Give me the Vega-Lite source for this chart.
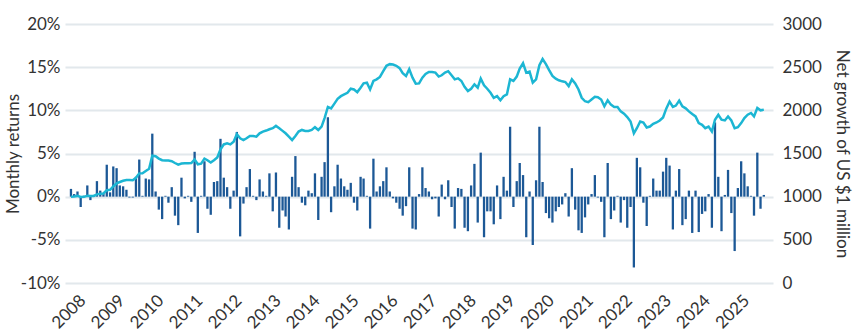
{
  "$schema": "https://vega.github.io/schema/vega-lite/v6.json",
  "width": 708,
  "height": 259,
  "autosize": {"type": "none"},
  "padding": {"left": 65, "top": 24, "right": 82, "bottom": 53},
  "config": {
    "font": "Lato",
    "view": {"stroke": null},
    "axis": {"labelFontSize": 17, "titleFontSize": 17, "labelColor": "#333333", "titleColor": "#333333", "titleFontWeight": "normal", "domain": false, "ticks": false}
  },
  "data": {"values": [
    {"d":"2007-09-01","r":0.9,"g":1000},{"d":"2007-10-01","r":0.3,"g":1003},{"d":"2007-11-01","r":0.6,"g":1009},{"d":"2007-12-01","r":-1.2,"g":997},
    {"d":"2008-01-01","r":0.1,"g":998},{"d":"2008-02-01","r":1.3,"g":1011},{"d":"2008-03-01","r":-0.4,"g":1007},{"d":"2008-04-01","r":0.2,"g":1009},{"d":"2008-05-01","r":1.8,"g":1027},{"d":"2008-06-01","r":0.7,"g":1034},{"d":"2008-07-01","r":0.3,"g":1037},{"d":"2008-08-01","r":3.7,"g":1075},{"d":"2008-09-01","r":0.5,"g":1080},{"d":"2008-10-01","r":3.5,"g":1118},{"d":"2008-11-01","r":3.3,"g":1155},{"d":"2008-12-01","r":1.3,"g":1170},
    {"d":"2009-01-01","r":1.2,"g":1184},{"d":"2009-02-01","r":0.8,"g":1193},{"d":"2009-03-01","r":-0.1,"g":1192},{"d":"2009-04-01","r":-0.1,"g":1191},{"d":"2009-05-01","r":2.3,"g":1218},{"d":"2009-06-01","r":4.3,"g":1270},{"d":"2009-07-01","r":0.1,"g":1272},{"d":"2009-08-01","r":2.1,"g":1298},{"d":"2009-09-01","r":2.0,"g":1324},{"d":"2009-10-01","r":7.3,"g":1475},{"d":"2009-11-01","r":0.6,"g":1469},{"d":"2009-12-01","r":-1.5,"g":1441},
    {"d":"2010-01-01","r":-2.6,"g":1422},{"d":"2010-02-01","r":0.1,"g":1418},{"d":"2010-03-01","r":-0.7,"g":1418},{"d":"2010-04-01","r":1.1,"g":1410},{"d":"2010-05-01","r":-2.2,"g":1390},{"d":"2010-06-01","r":-3.3,"g":1371},{"d":"2010-07-01","r":2.2,"g":1383},{"d":"2010-08-01","r":-0.2,"g":1387},{"d":"2010-09-01","r":0.1,"g":1387},{"d":"2010-10-01","r":-0.6,"g":1390},{"d":"2010-11-01","r":5.2,"g":1430},{"d":"2010-12-01","r":-4.2,"g":1375},
    {"d":"2011-01-01","r":0.1,"g":1383},{"d":"2011-02-01","r":4.1,"g":1441},{"d":"2011-03-01","r":-1.4,"g":1422},{"d":"2011-04-01","r":-2.1,"g":1395},{"d":"2011-05-01","r":1.7,"g":1422},{"d":"2011-06-01","r":1.8,"g":1453},{"d":"2011-07-01","r":6.7,"g":1547},{"d":"2011-08-01","r":2.2,"g":1605},{"d":"2011-09-01","r":1.1,"g":1617},{"d":"2011-10-01","r":-1.4,"g":1605},{"d":"2011-11-01","r":0.7,"g":1637},{"d":"2011-12-01","r":7.5,"g":1723},
    {"d":"2012-01-01","r":-4.6,"g":1676},{"d":"2012-02-01","r":-0.8,"g":1656},{"d":"2012-03-01","r":1.1,"g":1676},{"d":"2012-04-01","r":3.2,"g":1703},{"d":"2012-05-01","r":0.1,"g":1703},{"d":"2012-06-01","r":-0.4,"g":1695},{"d":"2012-07-01","r":2.0,"g":1734},{"d":"2012-08-01","r":0.6,"g":1754},{"d":"2012-09-01","r":0.1,"g":1766},{"d":"2012-10-01","r":2.7,"g":1781},{"d":"2012-11-01","r":-1.7,"g":1793},{"d":"2012-12-01","r":2.8,"g":1820},
    {"d":"2013-01-01","r":-3.6,"g":1793},{"d":"2013-02-01","r":-1.6,"g":1762},{"d":"2013-03-01","r":-2.3,"g":1734},{"d":"2013-04-01","r":-3.8,"g":1695},{"d":"2013-05-01","r":2.3,"g":1656},{"d":"2013-06-01","r":4.7,"g":1703},{"d":"2013-07-01","r":1.1,"g":1754},{"d":"2013-08-01","r":-0.7,"g":1773},{"d":"2013-09-01","r":-1.0,"g":1762},{"d":"2013-10-01","r":0.7,"g":1762},{"d":"2013-11-01","r":0.4,"g":1773},{"d":"2013-12-01","r":2.7,"g":1805},
    {"d":"2014-01-01","r":-2.7,"g":1773},{"d":"2014-02-01","r":2.3,"g":1812},{"d":"2014-03-01","r":4.0,"g":1910},{"d":"2014-04-01","r":9.2,"g":2039},{"d":"2014-05-01","r":-1.8,"g":2023},{"d":"2014-06-01","r":1.2,"g":2078},{"d":"2014-07-01","r":3.7,"g":2133},{"d":"2014-08-01","r":2.1,"g":2164},{"d":"2014-09-01","r":1.2,"g":2184},{"d":"2014-10-01","r":0.8,"g":2203},{"d":"2014-11-01","r":1.6,"g":2250},{"d":"2014-12-01","r":-0.7,"g":2242},
    {"d":"2015-01-01","r":-1.6,"g":2211},{"d":"2015-02-01","r":2.3,"g":2262},{"d":"2015-03-01","r":2.1,"g":2312},{"d":"2015-04-01","r":0.1,"g":2320},{"d":"2015-05-01","r":-3.7,"g":2242},{"d":"2015-06-01","r":4.4,"g":2340},{"d":"2015-07-01","r":0.6,"g":2359},{"d":"2015-08-01","r":1.2,"g":2387},{"d":"2015-09-01","r":1.8,"g":2453},{"d":"2015-10-01","r":3.4,"g":2516},{"d":"2015-11-01","r":0.6,"g":2535},{"d":"2015-12-01","r":-0.2,"g":2531},
    {"d":"2016-01-01","r":-0.7,"g":2516},{"d":"2016-02-01","r":-1.4,"g":2488},{"d":"2016-03-01","r":-2.2,"g":2430},{"d":"2016-04-01","r":-1.1,"g":2398},{"d":"2016-05-01","r":3.4,"g":2477},{"d":"2016-06-01","r":-3.7,"g":2379},{"d":"2016-07-01","r":-3.8,"g":2309},{"d":"2016-08-01","r":0.3,"g":2312},{"d":"2016-09-01","r":3.4,"g":2379},{"d":"2016-10-01","r":1.0,"g":2422},{"d":"2016-11-01","r":0.6,"g":2445},{"d":"2016-12-01","r":-0.3,"g":2445},
    {"d":"2017-01-01","r":-0.2,"g":2437},{"d":"2017-02-01","r":-2.3,"g":2391},{"d":"2017-03-01","r":1.4,"g":2406},{"d":"2017-04-01","r":-0.3,"g":2437},{"d":"2017-05-01","r":1.9,"g":2453},{"d":"2017-06-01","r":-1.2,"g":2406},{"d":"2017-07-01","r":-3.7,"g":2359},{"d":"2017-08-01","r":1.0,"g":2371},{"d":"2017-09-01","r":0.9,"g":2340},{"d":"2017-10-01","r":-3.6,"g":2273},{"d":"2017-11-01","r":-4.0,"g":2223},{"d":"2017-12-01","r":1.3,"g":2250},
    {"d":"2018-01-01","r":3.8,"g":2301},{"d":"2018-02-01","r":-3.0,"g":2262},{"d":"2018-03-01","r":5.1,"g":2367},{"d":"2018-04-01","r":-4.7,"g":2289},{"d":"2018-05-01","r":-1.7,"g":2250},{"d":"2018-06-01","r":-1.7,"g":2203},{"d":"2018-07-01","r":-3.2,"g":2144},{"d":"2018-08-01","r":1.3,"g":2164},{"d":"2018-09-01","r":-2.6,"g":2117},{"d":"2018-10-01","r":2.3,"g":2164},{"d":"2018-11-01","r":0.7,"g":2184},{"d":"2018-12-01","r":8.1,"g":2359},
    {"d":"2019-01-01","r":-1.2,"g":2340},{"d":"2019-02-01","r":1.8,"g":2391},{"d":"2019-03-01","r":3.9,"g":2484},{"d":"2019-04-01","r":2.5,"g":2547},{"d":"2019-05-01","r":-4.7,"g":2437},{"d":"2019-06-01","r":0.6,"g":2449},{"d":"2019-07-01","r":-5.6,"g":2320},{"d":"2019-08-01","r":1.9,"g":2359},{"d":"2019-09-01","r":8.1,"g":2523},{"d":"2019-10-01","r":1.7,"g":2594},{"d":"2019-11-01","r":-1.9,"g":2535},{"d":"2019-12-01","r":-2.5,"g":2465},
    {"d":"2020-01-01","r":-3.0,"g":2398},{"d":"2020-02-01","r":-1.7,"g":2367},{"d":"2020-03-01","r":-1.2,"g":2348},{"d":"2020-04-01","r":-0.9,"g":2336},{"d":"2020-05-01","r":0.4,"g":2328},{"d":"2020-06-01","r":-2.3,"g":2281},{"d":"2020-07-01","r":3.3,"g":2359},{"d":"2020-08-01","r":-1.5,"g":2312},{"d":"2020-09-01","r":-3.9,"g":2242},{"d":"2020-10-01","r":-4.2,"g":2145},{"d":"2020-11-01","r":-2.4,"g":2105},{"d":"2020-12-01","r":-0.9,"g":2094},
    {"d":"2021-01-01","r":0.3,"g":2125},{"d":"2021-02-01","r":2.5,"g":2156},{"d":"2021-03-01","r":-0.1,"g":2152},{"d":"2021-04-01","r":-0.6,"g":2125},{"d":"2021-05-01","r":-4.7,"g":2047},{"d":"2021-06-01","r":3.9,"g":2117},{"d":"2021-07-01","r":-2.6,"g":2066},{"d":"2021-08-01","r":-1.6,"g":2039},{"d":"2021-09-01","r":0.1,"g":2039},{"d":"2021-10-01","r":-3.0,"g":1988},{"d":"2021-11-01","r":-0.4,"g":1961},{"d":"2021-12-01","r":-3.6,"g":1922},
    {"d":"2022-01-01","r":-1.2,"g":1871},{"d":"2022-02-01","r":-8.2,"g":1734},{"d":"2022-03-01","r":4.5,"g":1793},{"d":"2022-04-01","r":3.4,"g":1871},{"d":"2022-05-01","r":-0.7,"g":1859},{"d":"2022-06-01","r":-3.4,"g":1801},{"d":"2022-07-01","r":0.1,"g":1812},{"d":"2022-08-01","r":2.1,"g":1844},{"d":"2022-09-01","r":0.7,"g":1859},{"d":"2022-10-01","r":0.7,"g":1883},{"d":"2022-11-01","r":2.9,"g":1918},{"d":"2022-12-01","r":4.5,"g":2020},
    {"d":"2023-01-01","r":3.6,"g":2102},{"d":"2023-02-01","r":-3.8,"g":2039},{"d":"2023-03-01","r":0.7,"g":2055},{"d":"2023-04-01","r":3.2,"g":2113},{"d":"2023-05-01","r":-3.3,"g":2047},{"d":"2023-06-01","r":-2.6,"g":2023},{"d":"2023-07-01","r":0.7,"g":1988},{"d":"2023-08-01","r":-4.2,"g":1957},{"d":"2023-09-01","r":0.7,"g":1930},{"d":"2023-10-01","r":-4.1,"g":1852},{"d":"2023-11-01","r":-2.0,"g":1832},{"d":"2023-12-01","r":-1.7,"g":1793},
    {"d":"2024-01-01","r":0.3,"g":1812},{"d":"2024-02-01","r":-3.6,"g":1754},{"d":"2024-03-01","r":8.6,"g":1891},{"d":"2024-04-01","r":2.3,"g":1949},{"d":"2024-05-01","r":-4.0,"g":1891},{"d":"2024-06-01","r":0.2,"g":1883},{"d":"2024-07-01","r":3.1,"g":1930},{"d":"2024-08-01","r":-1.9,"g":1883},{"d":"2024-09-01","r":-6.3,"g":1793},{"d":"2024-10-01","r":1.0,"g":1805},{"d":"2024-11-01","r":4.1,"g":1852},{"d":"2024-12-01","r":2.7,"g":1910},
    {"d":"2025-01-01","r":1.2,"g":1949},{"d":"2025-02-01","r":0.1,"g":1969},{"d":"2025-03-01","r":-2.2,"g":1930},{"d":"2025-04-01","r":5.1,"g":2027},{"d":"2025-05-01","r":-1.4,"g":2000},{"d":"2025-06-01","r":0.2,"g":2008}
  ]},
  "encoding": {
    "x": {
      "field": "d", "type": "temporal",
      "scale": {"domain": ["2007-08-23", "2025-07-10"]},
      "axis": {"format": "%Y", "tickCount": {"interval": "year", "step": 1}, "labelAngle": 315, "labelAlign": "right", "labelBaseline": "top", "labelFontSize": 17, "labelOffset": -7, "grid": false, "title": null, "labelPadding": 9, "labelFlush": false, "labelOverlap": false, "labelBound": false}
    }
  },
  "layer": [
    {
      "mark": {"type": "bar", "size": 2.3, "color": "#1c5896"},
      "encoding": {
        "y": {
          "field": "r", "type": "quantitative",
          "scale": {"domain": [-10, 20], "nice": false},
          "axis": {"orient": "left", "values": [-10, -5, 0, 5, 10, 15, 20], "labelExpr": "datum.value + '%'", "grid": true, "gridColor": "#e2e8ec", "gridWidth": 2, "labelPadding": 5, "title": "Monthly returns", "titleX": -52, "titleBaseline": "middle"}
        }
      }
    },
    {
      "mark": {"type": "line", "color": "#1cb6d3", "strokeWidth": 2.5},
      "encoding": {
        "y": {
          "field": "g", "type": "quantitative",
          "scale": {"domain": [0, 3000], "nice": false},
          "axis": {"orient": "right", "values": [0, 500, 1000, 1500, 2000, 2500, 3000], "format": "d", "grid": false, "labelPadding": 9, "title": "Net growth of US $1 million", "titleX": 68, "titleBaseline": "middle"}
        }
      }
    }
  ],
  "resolve": {"scale": {"y": "independent"}}
}
